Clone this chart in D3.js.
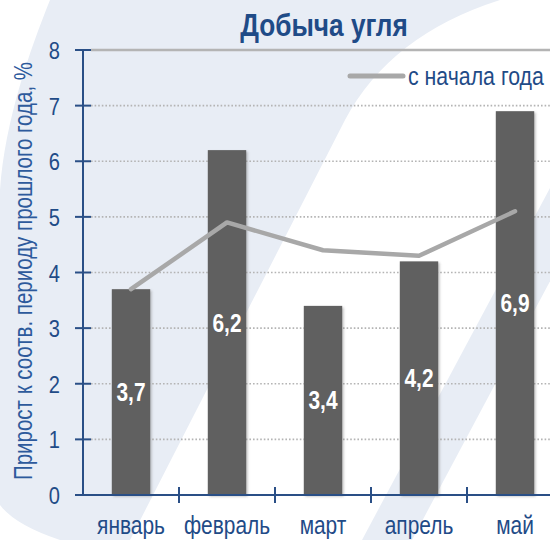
<!DOCTYPE html>
<html>
<head>
<meta charset="utf-8">
<script src="https://cdn.jsdelivr.net/npm/d3@7"></script>
<style>
  body { margin: 0; background: #fff; }
  svg { display: block; }
  text { font-family: "Liberation Sans", Arial, sans-serif; }
</style>
</head>
<body>
<div id="chart"></div>
<script>
var months = ["январь", "февраль", "март", "апрель", "май"];
var monthly = [3.7, 6.2, 3.4, 4.2, 6.9];
var sinceYearStart = [3.7, 4.9, 4.4, 4.3, 5.1];
var yTicks = [0, 1, 2, 3, 4, 5, 6, 7, 8];

var width = 550, height = 540;
var blue = "#1f4b87";
var squeeze = 0.82; // the original uses a narrow face, no such font here

// place a text with a horizontal squeeze so it reads like a narrow font
function narrow(sel, fx, fy, rot) {
	return sel.attr("transform", function(d, i) {
		return "translate(" + fx(d, i) + "," + fy(d, i) + ")" + (rot ? " rotate(" + rot + ")" : "") + " scale(" + squeeze + ",1)";
	});
}
function k(v) { return function() { return v; }; }

var svg = d3.select("#chart")
	.append("svg")
	.attr("width", width)
	.attr("height", height);

// background swooshes
svg.append("rect").attr("width", width).attr("height", height).attr("fill", "#fff");
svg.append("path")
	.attr("d", "M50,0 L500,0 Q390,35 345,120 L130,540 L60,540 Q15,525 0,505 L0,190 C5,120 30,50 50,0 Z")
	.attr("fill", "#e8edf5");
svg.append("path")
	.attr("d", "M362,540 L412,540 L557,268 L557,175 Z")
	.attr("fill", "#e8edf5");

var defs = svg.append("defs");
defs.append("filter").attr("id", "shadow")
	.attr("x", "-20%").attr("y", "-10%").attr("width", "140%").attr("height", "120%")
	.append("feDropShadow")
	.attr("dx", 1.5).attr("dy", 1.5).attr("stdDeviation", 1.2)
	.attr("flood-color", "#777").attr("flood-opacity", 0.45);

var x = d3.scaleBand().domain(months).range([83, 563]);
var y = d3.scaleLinear().domain([0, 8]).range([495, 50]);
var bw = x.bandwidth() * 0.4;
var cx = function(d, i) { return x(months[i]) + x.bandwidth() / 2; };

// grid
svg.append("g").selectAll("line")
	.data(yTicks.filter(function(d) { return d > 0; }))
	.enter()
	.append("line")
	.attr("x1", 91).attr("x2", width)
	.attr("y1", function(d) { return y(d); })
	.attr("y2", function(d) { return y(d); })
	.attr("stroke", "#b4b4b4")
	.attr("stroke-width", function(d) { return d == 8 ? 2.5 : 1.6; })
	.attr("stroke-dasharray", function(d) { return d == 8 ? null : "1.6,2"; });

// title
narrow(svg.append("text"), k(324), k(36))
	.attr("text-anchor", "middle")
	.attr("font-size", 32).attr("font-weight", "bold")
	.attr("fill", blue)
	.text("Добыча угля");

// axis title
narrow(svg.append("text"), k(32), k(271), -90)
	.attr("text-anchor", "middle")
	.attr("font-size", 25)
	.attr("fill", "#2d5a9c")
	.text("Прирост к соотв. периоду прошлого года, %");

// bars
svg.append("g").selectAll("rect")
	.data(monthly)
	.enter()
	.append("rect")
	.attr("x", function(d, i) { return x(months[i]) + (x.bandwidth() - bw) / 2; })
	.attr("y", function(d) { return y(d); })
	.attr("width", bw)
	.attr("height", function(d) { return y(0) - y(d); })
	.attr("fill", "#606060")
	.attr("filter", "url(#shadow)");

narrow(svg.append("g").selectAll("text")
	.data(monthly)
	.enter()
	.append("text"), cx, function(d) { return (y(d) + y(0)) / 2 + 9; })
	.attr("text-anchor", "middle")
	.attr("font-size", 25.5).attr("font-weight", "bold")
	.attr("fill", "#fff")
	.text(function(d) { return String(d).replace(".", ","); });

// line
var line = d3.line()
	.x(cx)
	.y(function(d) { return y(d); });
svg.append("path")
	.datum(sinceYearStart)
	.attr("d", line)
	.attr("fill", "none")
	.attr("stroke", "#a8a8a8")
	.attr("stroke-width", 4.5)
	.attr("stroke-linecap", "round")
	.attr("stroke-linejoin", "round");

// y axis
var yAxis = svg.append("g");
yAxis.append("line")
	.attr("x1", 83).attr("x2", 83)
	.attr("y1", y(8)).attr("y2", y(0))
	.attr("stroke", "#2a4f86").attr("stroke-width", 2);
yAxis.selectAll(".yt")
	.data(yTicks)
	.enter()
	.append("line")
	.attr("x1", 75).attr("x2", 91)
	.attr("y1", function(d) { return y(d); })
	.attr("y2", function(d) { return y(d); })
	.attr("stroke", "#2a4f86").attr("stroke-width", 2);
narrow(yAxis.selectAll(".yl")
	.data(yTicks)
	.enter()
	.append("text"), k(60), function(d) { return y(d) + 9; })
	.attr("text-anchor", "end")
	.attr("font-size", 24.5)
	.attr("fill", blue)
	.text(function(d) { return d; });

// x axis
var xAxis = svg.append("g");
xAxis.append("line")
	.attr("x1", 75).attr("x2", width)
	.attr("y1", y(0)).attr("y2", y(0))
	.attr("stroke", "#2a4f86").attr("stroke-width", 2);
xAxis.selectAll(".xt")
	.data(months.slice(1))
	.enter()
	.append("line")
	.attr("x1", function(d) { return x(d); })
	.attr("x2", function(d) { return x(d); })
	.attr("y1", y(0) - 8).attr("y2", y(0) + 8)
	.attr("stroke", "#2a4f86").attr("stroke-width", 2);
narrow(xAxis.selectAll(".xl")
	.data(months)
	.enter()
	.append("text"), cx, k(534))
	.attr("text-anchor", "middle")
	.attr("font-size", 25.5)
	.attr("fill", blue)
	.text(function(d) { return d; });

// legend
var legend = svg.append("g").attr("transform", "translate(350,76)");
legend.append("line")
	.attr("x1", 0).attr("x2", 53)
	.attr("stroke", "#a8a8a8").attr("stroke-width", 5)
	.attr("stroke-linecap", "round");
narrow(legend.append("text"), k(58), k(8.5))
	.attr("font-size", 26)
	.attr("fill", blue)
	.text("с начала года");
</script>
</body>
</html>
